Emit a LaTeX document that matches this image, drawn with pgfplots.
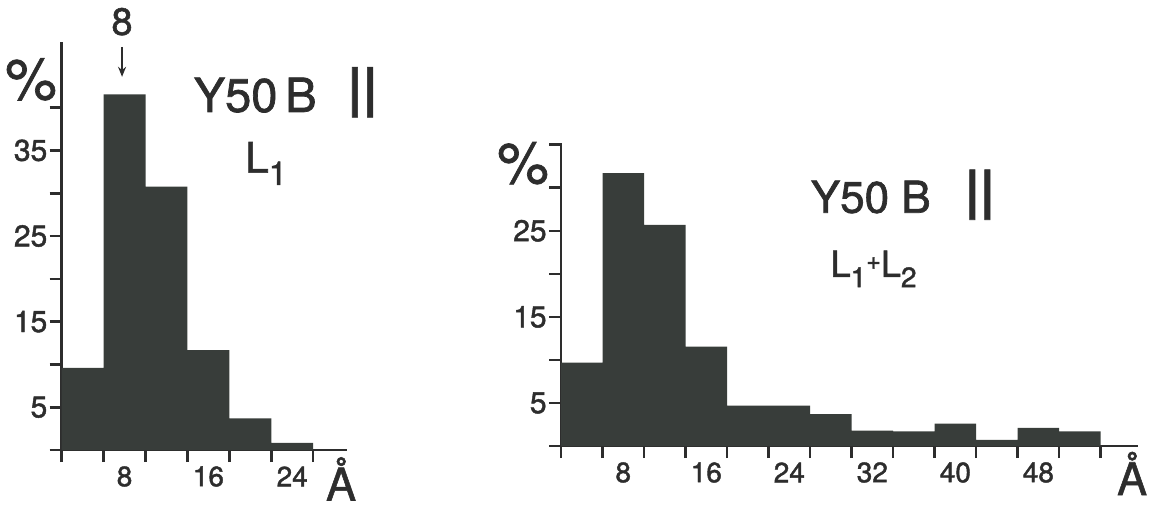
\documentclass[border=0pt]{standalone}
\usepackage{fontspec}
\setmainfont[FakeBold=1.2]{TeX Gyre Heros}
\newfontfamily\heavy[FakeBold=1.5]{TeX Gyre Heros}
\usepackage{graphicx}
\usepackage{pgfplots}
\pgfplotsset{compat=1.18}
\usetikzlibrary{arrows.meta}
\definecolor{barc}{RGB}{56,61,58}
\definecolor{ink}{RGB}{45,45,45}
\newcommand\fs[1]{\fontsize{#1}{#1}\selectfont}
\newcommand\sub[1]{\raisebox{-0.55ex}{\scalebox{0.78}{#1}}}
\pgfplotsset{hist/.style={
  scale only axis, axis lines*=left,
  axis line style={ink, line width=1.4pt},
  enlargelimits=false, clip=false, ymin=0, xmin=2,
  tick align=outside, major tick length=0pt, minor tick length=6pt,
  every minor tick/.append style={ink, line width=1.3pt},
  yticklabel style={anchor=east, inner sep=0pt, xshift=-7pt, font=\heavy\fs{15}, text=ink},
  xticklabel style={anchor=center, inner sep=0pt, yshift=-13.25pt, font=\heavy\fs{14}, text=ink},
  /pgf/number format/assume math mode=true,
}}
\begin{document}
\begin{tikzpicture}
\path[use as bounding box] (0,0) rectangle (576.5pt,255pt);
% left panel
\begin{axis}[hist, at={(30.85pt,30pt)}, anchor=south west,
  width=142.5pt, height=204.15pt, xmax=29.2, ymax=47.7,
  xtick={8,16,24}, minor xtick={2,6,...,26},
  ytick={5,15,25,35}, minor ytick={0,5,...,40}]
\addplot[ybar interval, fill=barc, draw=none] coordinates {
(2,9.6) (6,41.55) (10,30.76) (14,11.68) (18,3.7) (22,0.82) (26,0.82)};
\node[font=\heavy\fs{23.5}, text=ink, anchor=base] at (axis cs:20.47,39.5) {Y50\,B};
\node[font=\fs{27}\bfseries, text=ink, anchor=center] at (axis cs:30.71,41.8) {||};
\node[font=\heavy\fs{21}, text=ink, anchor=base west, inner sep=0pt] at (axis cs:19.49,32.4) {L\sub{1}};
\node[font=\fs{29}, text=ink, anchor=center] at (axis cs:-0.93,43.3) {\%};
\node[font=\heavy\fs{19}, text=ink, anchor=base] at (axis cs:7.76,48.5) {8};
\draw[-{Stealth[length=5pt,width=4pt]}, ink, line width=0.8pt] (axis cs:7.76,47.1) -- (axis cs:7.76,43.6);
\node[font=\fs{22.5}, text=ink, anchor=base, inner sep=0pt] at (axis cs:28.66,-5.9) {Å};
\end{axis}
% right panel
\begin{axis}[hist, at={(280.5pt,32pt)}, anchor=south west,
  width=288.5pt, height=151.5pt, xmax=57.6, ymax=35.2,
  xtick={8,16,...,48}, minor xtick={2,6,...,54},
  ytick={5,15,25}, minor ytick={0,5,...,35}]
\addplot[ybar interval, fill=barc, draw=none] coordinates {
(2,9.7) (6,31.7) (10,25.7) (14,11.55) (18,4.7) (22,4.7) (26,3.7) (30,1.8)
(34,1.7) (38,2.6) (42,0.7) (46,2.1) (50,1.7) (54,1.7)};
\node[font=\heavy\fs{22}, text=ink, anchor=base] at (axis cs:31.85,27.1) {Y50 B};
\node[font=\fs{27}\bfseries, text=ink, anchor=center] at (axis cs:42.36,29.2) {||};
\node[font=\heavy\fs{18}, text=ink, anchor=base west, inner sep=0pt] at (axis cs:27.94,19.65)
  {L\sub{1}\raisebox{0.4ex}{\scalebox{0.7}{+}}L\sub{2}};
\node[font=\fs{29}, text=ink, anchor=center] at (axis cs:-1.66,32.85) {\%};
\node[font=\fs{22.5}, text=ink, anchor=base, inner sep=0pt] at (axis cs:57.03,-5.7) {Å};
\end{axis}
\end{tikzpicture}
\end{document}
